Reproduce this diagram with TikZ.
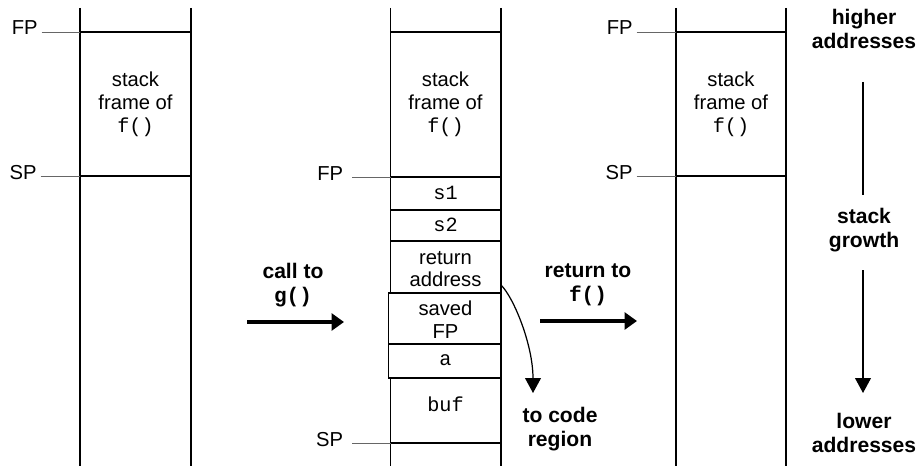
\documentclass[tikz,border=0pt]{standalone}
\usepackage{fontspec}
\setmainfont{Liberation Sans}
\setmonofont{Liberation Mono}
\usetikzlibrary{positioning,calc,arrows.meta}

\tikzset{
  stackline/.style={line width=1.1pt},
  ptrline/.style={line width=0.5pt, black!60, shorten <=2pt},
  bigarrow/.style={line width=2.8pt, -{Triangle[length=7pt,width=9.5pt]}},
  thinarrow/.style={line width=0.7pt, -{Triangle[length=8.5pt,width=9pt]}},
  celltext/.style={align=center, font=\fontsize{11.5}{13}\selectfont, inner sep=0pt},
  boldtext/.style={align=center, font=\fontsize{12}{13.5}\selectfont\bfseries, inner sep=0pt},
  ptrtext/.style={anchor=base east, font=\fontsize{11.5}{13}\selectfont, inner sep=0pt},
}

\begin{document}
\begin{tikzpicture}[x=0.02cm, y=-0.02cm]
    \useasboundingbox (0,0) rectangle (922,466);

    % Stack before the call
    \draw[stackline] (80,8) -- (80,466) (191,8) -- (191,466);
    \draw[stackline] (80,32) -- (191,32) (80,176) -- (191,176);
    \node[celltext] (frameA) at (135.5,104) {stack\\frame of\\\texttt{f()}};
    \coordinate (fpA) at (80,32);
    \coordinate (spA) at (80,176);
    \node[ptrtext] (fpLA) at ($(fpA)+(-42,3)$) {FP};
    \node[ptrtext] (spLA) at ($(spA)+(-43,3)$) {SP};
    \draw[ptrline] (fpLA.east |- fpA) -- (fpA);
    \draw[ptrline] (spLA.east |- spA) -- (spA);

    % Stack during g()
    \draw[stackline] (390.5,8) -- (390.5,293) (390.5,378) -- (390.5,466) (501,8) -- (501,466);
    \foreach \y in {32,177,210,241,443} \draw[stackline] (390.5,\y) -- (501,\y);
    \draw[stackline] (388.5,293) rectangle (501,378);
    \draw[stackline] (388.5,344) -- (501,344);
    \node[celltext] (frameB) at (445.5,104) {stack\\frame of\\\texttt{f()}};
    \node[celltext] (sOne) at (445.5,193) {\texttt{s1}};
    \node[celltext] (sTwo) at (445.5,225) {\texttt{s2}};
    \node[celltext] (retAddr) at (445.5,269) {return\\address};
    \node[celltext] (savedFP) at (445.5,320) {saved\\FP};
    \node[celltext] (varA) at (445.5,360) {\texttt{a}};
    \node[celltext] (buf) at (445.5,404) {\texttt{buf}};
    \coordinate (fpB) at (390.5,177);
    \coordinate (spB) at (390.5,443);
    \node[ptrtext] (fpLB) at ($(fpB)+(-47,3)$) {FP};
    \node[ptrtext] (spLB) at ($(spB)+(-47,3)$) {SP};
    \draw[ptrline] (fpLB.east |- fpB) ++(5,0) -- (fpB);
    \draw[ptrline] (spLB.east |- spB) ++(5,0) -- (spB);

    % Stack after the return
    \draw[stackline] (676,8) -- (676,466) (786,8) -- (786,466);
    \draw[stackline] (676,32) -- (786,32) (676,176) -- (786,176);
    \node[celltext] (frameC) at (731,104) {stack\\frame of\\\texttt{f()}};
    \coordinate (fpC) at (676,32);
    \coordinate (spC) at (676,176);
    \node[ptrtext] (fpLC) at ($(fpC)+(-43,3)$) {FP};
    \node[ptrtext] (spLC) at ($(spC)+(-43,3)$) {SP};
    \draw[ptrline] (fpLC.east |- fpC) -- (fpC);
    \draw[ptrline] (spLC.east |- spC) -- (spC);

    % Call and return arrows
    \node[boldtext] (callLbl) at (293,285) {call to\\\texttt{g()}};
    \coordinate (callS) at (247,322);
    \coordinate (callE) at (344,322);
    \draw[bigarrow] (callS) -- (callE);
    \node[boldtext] (retLbl) at (588,285) {return to\\\texttt{f()}};
    \coordinate (retS) at (540,321);
    \coordinate (retE) at (637,321);
    \draw[bigarrow] (retS) -- (retE);

    % Return address points to code
    \coordinate (raddr) at (501,285);
    \coordinate (code) at (533,393);
    \draw[thinarrow] (raddr) .. controls (514,298) and (533,345) .. (code);
    \node[boldtext] (codeLbl) at (560,429) {to code\\region};

    % Direction of growth
    \node[boldtext] (higher) at (864,29) {higher\\addresses};
    \node[boldtext] (growth) at (864,230) {stack\\growth};
    \node[boldtext] (lower) at (864,433) {lower\\addresses};
    \coordinate (gTop) at (863,82);
    \coordinate (gMid) at (863,195);
    \coordinate (gBot) at (863,270);
    \coordinate (gTip) at (863,393);
    \draw[line width=0.8pt] (gTop) -- (gMid);
    \draw[thinarrow] (gBot) -- (gTip);
\end{tikzpicture}
\end{document}
